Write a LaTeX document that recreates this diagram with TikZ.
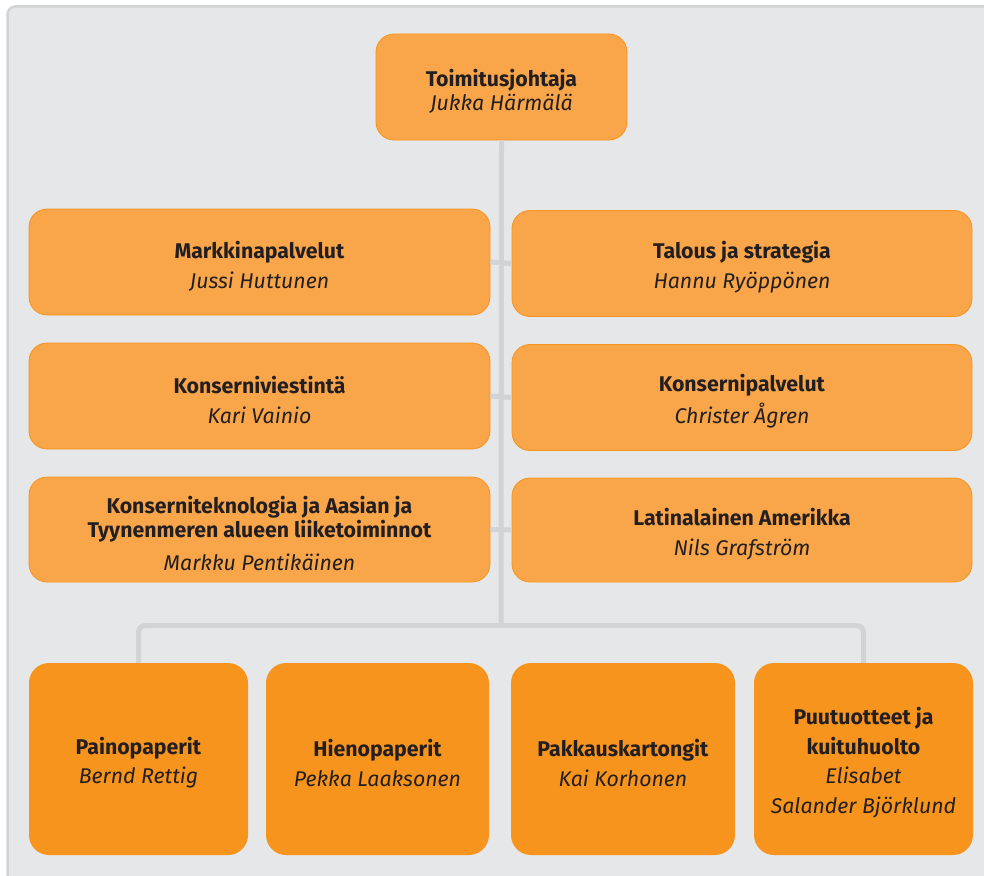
\documentclass[tikz,border=0pt]{standalone}
\usepackage{fontspec}
\setmainfont{Fira Sans}
\newcommand{\headln}[1]{\rule{0pt}{25pt}\textbf{#1}}
\begin{document}
\begin{tikzpicture}[x=1pt,y=-1pt]
\definecolor{bg}{HTML}{E6E7E8}
\definecolor{frame}{HTML}{D1D3D4}
\definecolor{lightor}{HTML}{F9A54A}
\definecolor{lightorline}{HTML}{F7941D}
\definecolor{darkor}{HTML}{F7941E}
\definecolor{txt}{HTML}{231F20}
\tikzset{
  conn/.style={draw=frame, line width=5pt},
  upbox/.style={rectangle, rounded corners=18pt, fill=lightor, draw=lightorline, line width=0.8pt,
    text=txt, align=center, inner sep=0pt, font=\fontsize{21.3}{24}\selectfont},
  lowbox/.style={rectangle, rounded corners=20pt, fill=darkor, draw=none,
    text=txt, align=center, inner sep=0pt, minimum height=192pt, font=\fontsize{21.3}{29.5}\selectfont},
}
\useasboundingbox (0,0) rectangle (984,875);
\fill[white] (0,0) rectangle (984,875);
\draw[fill=bg, draw=frame, line width=2.5pt, rounded corners=8pt] (7.5,6.5) rectangle (995,890);

\coordinate (bus) at (501,625.5);

\node[upbox, minimum width=251pt, minimum height=106pt] (T) at (501.5,87)
  {\headln{Toimitusjohtaja}\\\textit{Jukka Härmälä}};

\node[upbox, minimum width=461pt, minimum height=106pt] (L1) at (259.5,262)
  {\headln{Markkinapalvelut}\\[6pt]\textit{Jussi Huttunen}};
\node[upbox, minimum width=460pt, minimum height=106pt] (R1) at (742,263.5)
  {\headln{Talous ja strategia}\\[6pt]\textit{Hannu Ryöppönen}};
\node[upbox, minimum width=461pt, minimum height=106pt] (L2) at (259.5,396)
  {\headln{Konserniviestintä}\\[6pt]\textit{Kari Vainio}};
\node[upbox, minimum width=460pt, minimum height=106pt] (R2) at (742,397.5)
  {\headln{Konsernipalvelut}\\[6pt]\textit{Christer Ågren}};
\node[upbox, minimum width=461pt, minimum height=105pt] (L3) at (259.5,529.5)
  {\headln{Konserniteknologia ja Aasian ja}\\[-0.5pt]\textbf{Tyynenmeren alueen liiketoiminnot}\\[9pt]\textit{Markku Pentikäinen}};
\node[upbox, minimum width=460pt, minimum height=104pt] (R3) at (742,530)
  {\headln{Latinalainen Amerikka}\\[6pt]\textit{Nils Grafström}};

\node[lowbox, minimum width=219pt] (B1) at (138.5,759)
  {\headln{Painopaperit}\\\textit{Bernd Rettig}};
\node[lowbox, minimum width=223pt] (B2) at (377.5,759)
  {\headln{Hienopaperit}\\\textit{Pekka Laaksonen}};
\node[lowbox, minimum width=224pt] (B3) at (623,759)
  {\headln{Pakkauskartongit}\\\textit{Kai Korhonen}};
\node[lowbox, minimum width=219pt] (B4) at (863.5,759)
  {\headln{Puutuotteet ja}\\\textbf{kuituhuolto}\\\textit{Elisabet}\\\textit{Salander Björklund}};

\draw[conn] (T.south) -- (bus);
\draw[conn] (L1.east) -- (R1.west);
\draw[conn] (L2.east) -- (R2.west);
\draw[conn] (L3.east) -- (R3.west);
\draw[conn, rounded corners=7pt] (B1.north) |- (bus) -| (B4.north);
\end{tikzpicture}
\end{document}
